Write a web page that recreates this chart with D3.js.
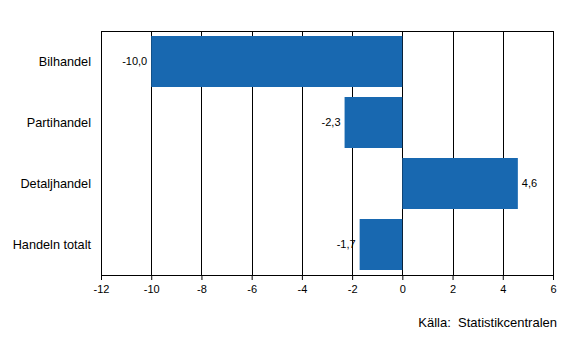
<!DOCTYPE html>
<html>
<head>
<meta charset="utf-8">
<script src="https://cdn.jsdelivr.net/npm/d3@7"></script>
<style>
  html, body { margin: 0; padding: 0; background: #fff; }
  svg { display: block; font-family: "Liberation Sans", Arial, sans-serif; }
</style>
</head>
<body>
<svg id="chart" width="565" height="360"></svg>
<script>
const categories = ["Bilhandel", "Partihandel", "Detaljhandel", "Handeln totalt"];
const values = [-10.0, -2.3, 4.6, -1.7];
const xTicks = [-12, -10, -8, -6, -4, -2, 0, 2, 4, 6];
const sourceText = "Källa:  Statistikcentralen";

const d3 = window.d3;
const width = 565, height = 360;
const margin = { top: 31, right: 12, bottom: 85, left: 101 };
const innerW = width - margin.left - margin.right;
const innerH = height - margin.top - margin.bottom;
const barColor = "#1868b0";

const svg = d3.select("#chart").attr("viewBox", `0 0 ${width} ${height}`);
const g = svg.append("g").attr("transform", `translate(${margin.left},${margin.top})`);

const x = d3.scaleLinear().domain([-12, 6]).range([0, innerW]);
const y = d3
  .scaleBand()
  .domain(categories)
  .range([0, innerH])
  .paddingInner(0.164)
  .paddingOuter(0.082);

// vertical grid lines
g.selectAll("line.grid")
  .data(xTicks)
  .enter()
  .append("line")
  .attr("class", "grid")
  .attr("x1", (d) => Math.round(x(d)) + 0.5)
  .attr("x2", (d) => Math.round(x(d)) + 0.5)
  .attr("y1", 0)
  .attr("y2", innerH)
  .attr("stroke", "#000")
  .attr("stroke-width", 1);

// top border
g.append("line")
  .attr("x1", 0).attr("x2", innerW)
  .attr("y1", 0.5).attr("y2", 0.5)
  .attr("stroke", "#000");

// bars
g.selectAll("rect.bar")
  .data(values)
  .enter()
  .append("rect")
  .attr("class", "bar")
  .attr("x", (d) => x(Math.min(0, d)))
  .attr("y", (d, i) => y(categories[i]))
  .attr("width", (d) => Math.abs(x(d) - x(0)))
  .attr("height", y.bandwidth())
  .attr("fill", barColor);

// value labels
const fmt = (v) => d3.format(".1f")(v).replace(".", ",").replace("−", "-");
g.selectAll("text.value")
  .data(values)
  .enter()
  .append("text")
  .attr("class", "value")
  .attr("x", (d) => (d < 0 ? x(d) - 4 : x(d) + 4))
  .attr("y", (d, i) => y(categories[i]) + y.bandwidth() / 2)
  .attr("dy", "0.35em")
  .attr("text-anchor", (d) => (d < 0 ? "end" : "start"))
  .attr("font-size", 11)
  .attr("fill", "#000")
  .text(fmt);

// x axis
const xAxis = g.append("g")
  .attr("transform", `translate(0,${innerH})`)
  .call(
    d3.axisBottom(x)
      .tickValues(xTicks)
      .tickSize(5)
      .tickPadding(5)
      .tickSizeOuter(0)
      .tickFormat((d) => String(d))
  );
xAxis.selectAll("text").attr("font-size", 11).attr("fill", "#000");
xAxis.selectAll(".domain,.tick line").attr("stroke", "#000");

// y axis (category labels)
const yAxis = g.append("g")
  .call(d3.axisLeft(y).tickSize(0).tickPadding(10).tickSizeOuter(0));
yAxis.selectAll("text").attr("font-size", 12.7).attr("fill", "#000");
yAxis.select(".domain").remove();

// source
svg.append("text")
  .attr("x", 557)
  .attr("y", 322)
  .attr("dy", "0.35em")
  .attr("text-anchor", "end")
  .attr("font-size", 13)
  .attr("fill", "#000")
  .attr("xml:space", "preserve")
  .style("white-space", "pre")
  .text(sourceText);
</script>
</body>
</html>
